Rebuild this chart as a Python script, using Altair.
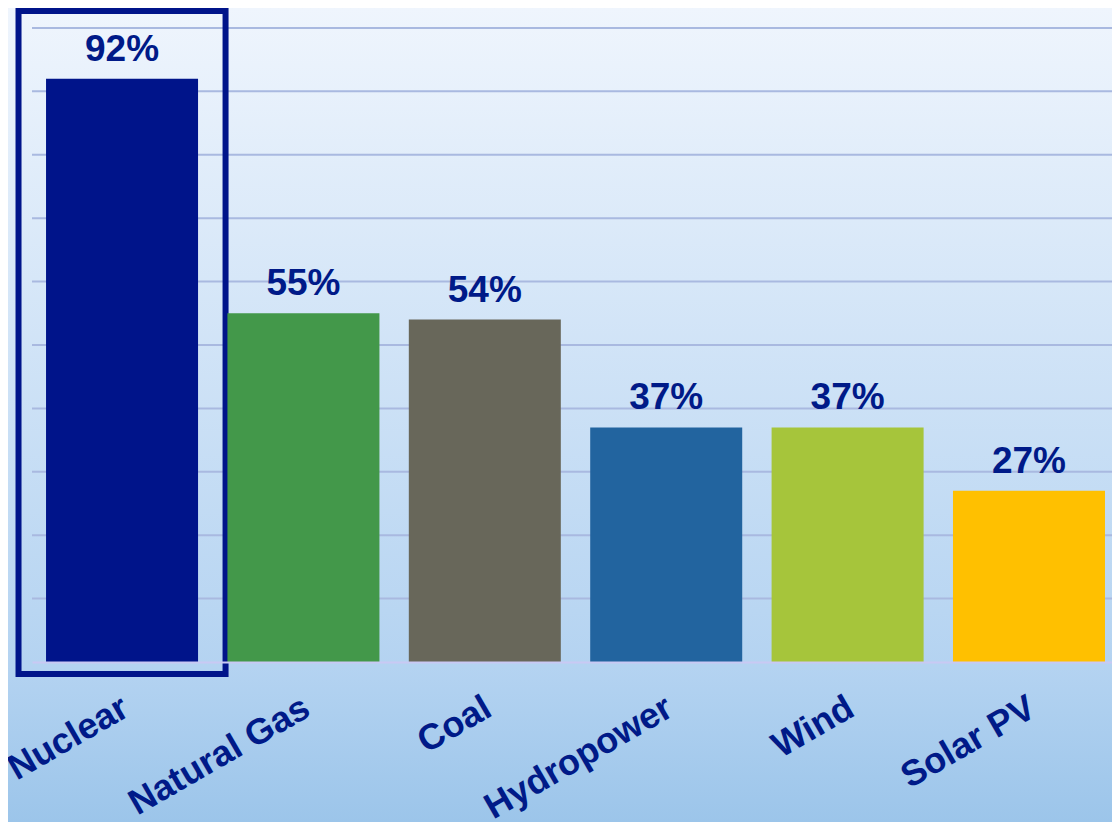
import altair as alt
import pandas as pd

categories = ["Nuclear", "Natural Gas", "Coal", "Hydropower", "Wind", "Solar PV"]
values = [92, 55, 54, 37, 37, 27]
labels = ["92%", "55%", "54%", "37%", "37%", "27%"]
colors = ["#00148a", "#43984a", "#68675a", "#22649f", "#a6c53b", "#ffc000"]
grid_values = [10, 20, 30, 40, 50, 60, 70, 80, 90, 100]
highlight = ["Nuclear"]

W, H = 1080, 654
PAD_L, PAD_B = 24, 160
NAVY = "#001a88"
FONT = "Liberation Sans"

df = pd.DataFrame({"cat": categories, "val": values, "lab": labels})
grid_df = pd.DataFrame({"g": grid_values})
hl_df = pd.DataFrame({"cat": highlight})
bg_df = pd.DataFrame({"k": [0]})

xscale = alt.Scale(domain=categories, paddingInner=0.162, paddingOuter=0.058, align=0.667)
yscale = alt.Scale(domain=[0, 103.15], nice=False, zero=True)

x_enc = alt.X(
    "cat:N",
    scale=xscale,
    sort=categories,
    axis=alt.Axis(
        title=None,
        labelAngle=330,
        labelAlign="right",
        labelBaseline="top",
        labelPadding=28,
        labelOffset=-5,
        labelFontSize=36,
        labelFont=FONT,
        labelFontWeight="bold",
        labelColor=NAVY,
        ticks=False,
        domain=True,
        domainColor="#c9c9f4",
        domainWidth=2,
        grid=False,
        zindex=1,
        labelOverlap=False,
        labelLimit=400,
    ),
)

bg = alt.Chart(bg_df).mark_rect(
    fill=alt.Gradient(
        gradient="linear",
        stops=[
            alt.GradientStop(color="#eff5fd", offset=0),
            alt.GradientStop(color="#b4d3f1", offset=0.81),
            alt.GradientStop(color="#9cc5ea", offset=1),
        ],
        x1=0, x2=0, y1=0, y2=1,
    )
).encode(
    x=alt.value(-PAD_L), x2=alt.value(W), y=alt.value(0), y2=alt.value(H + PAD_B)
)

grid = alt.Chart(grid_df).mark_rule(color="#a9b9e0", strokeWidth=2).encode(
    y=alt.Y("g:Q", scale=yscale, axis=None)
)

box = alt.Chart(hl_df).mark_bar(
    width=alt.RelativeBandSize(1.362),
    fill="transparent",
    stroke="#00148a",
    strokeWidth=6,
).encode(
    x=alt.X("cat:N", scale=xscale, sort=categories),
    y=alt.value(3),
    y2=alt.value(666),
)

bars = alt.Chart(df).mark_bar().encode(
    x=x_enc,
    y=alt.Y("val:Q", scale=yscale, axis=None),
    color=alt.Color("cat:N", scale=alt.Scale(domain=categories, range=colors), legend=None),
)

text = alt.Chart(df).mark_text(
    dy=-18, baseline="alphabetic", fontSize=37, font=FONT, fontWeight="bold", color=NAVY
).encode(
    x=alt.X("cat:N", scale=xscale, sort=categories),
    y=alt.Y("val:Q", scale=yscale),
    text="lab:N",
)

chart = alt.layer(bg, grid, box, bars, text).properties(
    width=W,
    height=H,
    autosize=alt.AutoSizeParams(type="none"),
    padding={"left": PAD_L, "top": 0, "right": 0, "bottom": PAD_B},
).configure_view(stroke=None)

chart.save("out.html", embed_options={"renderer": "svg", "actions": False})
